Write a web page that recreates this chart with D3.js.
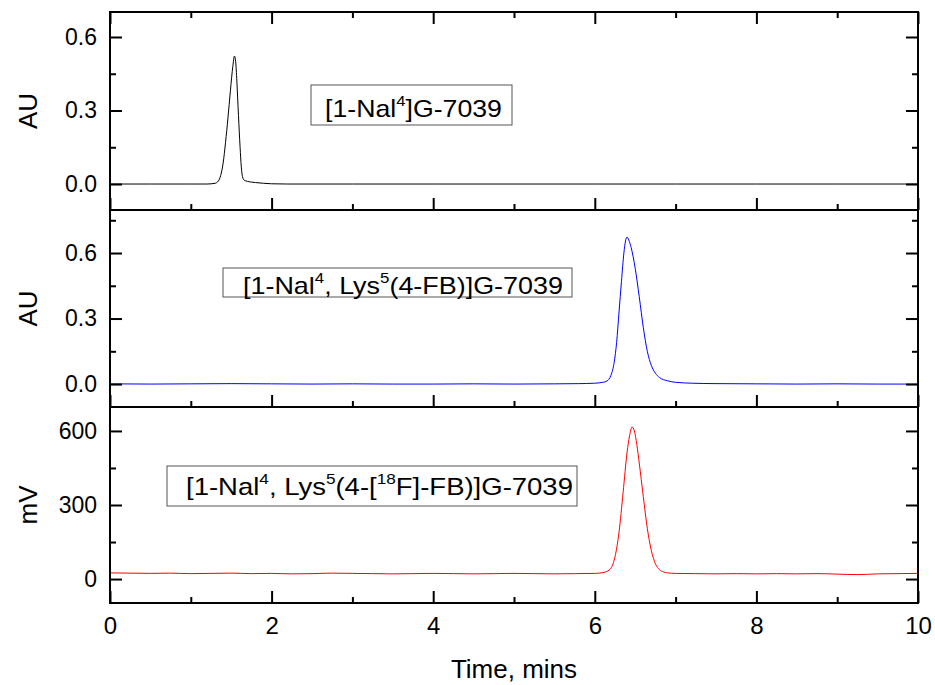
<!DOCTYPE html>
<html>
<head>
<meta charset="utf-8">
<script src="https://d3js.org/d3.v7.min.js"></script>
<style>
  body { margin: 0; background: white; }
  text { font-family: "Liberation Sans", Arial, sans-serif; fill: black; }
  .tick line { stroke: black; stroke-width: 2px; }
  .domain { display: none; }
</style>
</head>
<body>
<div id="chart"></div>
<script>
// ---------- data ----------
var xTicks = [0, 2, 4, 6, 8, 10];
var xMinor = [1, 3, 5, 7, 9];

// panel 1: [1-Nal4]G-7039 (AU)
var blackT = [0, 0.5, 1.0, 1.2, 1.3, 1.34, 1.37, 1.40, 1.43, 1.46, 1.49, 1.52, 1.54, 1.555, 1.57, 1.59, 1.61, 1.625, 1.64, 1.66, 1.70, 1.75, 1.80, 1.90, 2.0, 2.2, 3, 4, 5, 6, 7, 8, 9, 10];
var blackV = [0, 0, 0, 0, 0.003, 0.012, 0.035, 0.085, 0.17, 0.27, 0.38, 0.48, 0.522, 0.50, 0.42, 0.28, 0.15, 0.07, 0.03, 0.016, 0.011, 0.008, 0.006, 0.003, 0.001, 0, 0, 0, 0, 0, 0, 0, 0, 0];

// panel 2: [1-Nal4, Lys5(4-FB)]G-7039 (AU)
var blueT = [0, 0.5, 1.0, 1.5, 2.0, 2.5, 3.0, 3.5, 4.0, 4.5, 5.0, 5.5, 5.8, 6.0, 6.1, 6.15, 6.20, 6.24, 6.27, 6.30, 6.33, 6.36, 6.38, 6.40, 6.42, 6.45, 6.50, 6.55, 6.60, 6.65, 6.70, 6.75, 6.80, 6.90, 7.0, 7.2, 7.5, 8.0, 8.5, 9.0, 9.5, 10];
var blueV = [0.001, 0, 0.001, 0.002, 0.001, 0, 0.001, 0, 0, 0.001, 0, 0.001, 0.002, 0.004, 0.008, 0.014, 0.04, 0.10, 0.19, 0.33, 0.47, 0.60, 0.655, 0.673, 0.66, 0.625, 0.53, 0.40, 0.26, 0.15, 0.085, 0.05, 0.03, 0.015, 0.008, 0.004, 0.002, 0.001, 0, 0.001, 0, 0];

// panel 3: [1-Nal4, Lys5(4-[18F]-FB)]G-7039 (mV)
var redT = [0, 0.25, 0.5, 0.75, 1.0, 1.25, 1.5, 1.75, 2.0, 2.25, 2.5, 2.75, 3.0, 3.25, 3.5, 3.75, 4.0, 4.25, 4.5, 4.75, 5.0, 5.25, 5.5, 5.75, 6.0, 6.10, 6.15, 6.20, 6.25, 6.30, 6.35, 6.40, 6.43, 6.46, 6.49, 6.52, 6.55, 6.60, 6.65, 6.70, 6.75, 6.80, 6.85, 6.90, 7.0, 7.25, 7.5, 7.75, 8.0, 8.25, 8.5, 8.75, 9.0, 9.25, 9.5, 9.75, 10];
var redV = [25, 24, 23, 24, 22, 23, 24, 22, 23, 21, 22, 24, 23, 22, 21, 22, 23, 22, 21, 22, 23, 22, 21, 22, 23, 26, 31, 44, 90, 190, 350, 515, 580, 616, 600, 545, 470, 335, 205, 115, 62, 38, 29, 25, 23, 22, 21, 22, 21, 22, 21, 22, 20, 18, 21, 22, 23];

var yTicksAU = [0, 0.3, 0.6];
var yMinorAU1 = [0.15, 0.45];
var yMinorAU2 = [0.15, 0.45, 0.75];
var yTicksMV = [0, 300, 600];
var yMinorMV = [150, 450];

// ---------- layout ----------
var width = 935, height = 685;
var left = 110, right = 918;

var panels = [
  { top: 12,  bottom: 210, domain: [-0.106, 0.702], ticks: yTicksAU, minor: yMinorAU1, fmt: d3.format(".1f"),
    title: "AU", color: "#000000", t: blackT, v: blackV,
    label: [["[1-Nal"], ["4", 1], ["]G-7039"]], box: [311, 85, 201, 40], tx: 325, ty: 117, tw: 177 },
  { top: 210, bottom: 407, domain: [-0.105, 0.797], ticks: yTicksAU, minor: yMinorAU2, fmt: d3.format(".1f"),
    title: "AU", color: "#0000ff", t: blueT, v: blueV,
    label: [["[1-Nal"], ["4", 1], [", Lys"], ["5", 1], ["(4-FB)]G-7039"]], box: [223, 268, 349, 29], tx: 243, ty: 294, tw: 320 },
  { top: 407, bottom: 603, domain: [-97, 697], ticks: yTicksMV, minor: yMinorMV, fmt: d3.format("d"),
    title: "mV", color: "#ff0000", t: redT, v: redV,
    label: [["[1-Nal"], ["4", 1], [", Lys"], ["5", 1], ["(4-["], ["18", 1], ["F]-FB)]G-7039"]], box: [167, 466, 410, 40], tx: 186, ty: 495, tw: 387 }
];

var svg = d3.select("#chart").append("svg")
  .attr("width", width)
  .attr("height", height)
  .style("background", "white");

var x = d3.scaleLinear().domain([0, 10]).range([left, right]);

panels.forEach(function(p, i) {
  var y = d3.scaleLinear().domain(p.domain).range([p.bottom, p.top]);
  var g = svg.append("g");

  // data line
  var pts = p.t.map(function(t, k) { return [t, p.v[k]]; });
  g.append("path")
    .datum(pts)
    .attr("fill", "none")
    .attr("stroke", p.color)
    .attr("stroke-width", 1)
    .attr("d", d3.line()
      .x(function(d) { return x(d[0]); })
      .y(function(d) { return y(d[1]); })
      .curve(d3.curveMonotoneX));

  // left axis
  g.append("g").attr("transform", "translate(" + left + ",0)")
    .call(d3.axisLeft(y).tickValues(p.ticks).tickSize(-12).tickPadding(13).tickFormat(p.fmt))
    .selectAll("text").style("font-size", "23px");
  g.append("g").attr("transform", "translate(" + left + ",0)")
    .call(d3.axisLeft(y).tickValues(p.minor).tickSize(-6).tickFormat(""));
  // right axis (mirror)
  g.append("g").attr("transform", "translate(" + right + ",0)")
    .call(d3.axisRight(y).tickValues(p.ticks).tickSize(-12).tickFormat(""));
  g.append("g").attr("transform", "translate(" + right + ",0)")
    .call(d3.axisRight(y).tickValues(p.minor).tickSize(-6).tickFormat(""));

  // bottom ticks
  var bx = g.append("g").attr("transform", "translate(0," + p.bottom + ")")
    .call(d3.axisBottom(x).tickValues(xTicks).tickSize(-12).tickPadding(14)
      .tickFormat(i === panels.length - 1 ? d3.format("d") : ""));
  bx.selectAll("text").style("font-size", "24px");
  g.append("g").attr("transform", "translate(0," + p.bottom + ")")
    .call(d3.axisBottom(x).tickValues(xMinor).tickSize(-6).tickFormat(""));

  // top ticks only on first panel
  if (i === 0) {
    g.append("g").attr("transform", "translate(0," + p.top + ")")
      .call(d3.axisTop(x).tickValues(xTicks).tickSize(-12).tickFormat(""));
    g.append("g").attr("transform", "translate(0," + p.top + ")")
      .call(d3.axisTop(x).tickValues(xMinor).tickSize(-6).tickFormat(""));
  }

  // frame
  g.append("rect")
    .attr("x", left).attr("y", p.top)
    .attr("width", right - left).attr("height", p.bottom - p.top)
    .attr("fill", "none").attr("stroke", "black").attr("stroke-width", 2);

  // y title
  g.append("text")
    .attr("transform", "translate(37," + ((p.top + p.bottom) / 2) + ") rotate(-90)")
    .attr("text-anchor", "middle")
    .style("font-size", "26px")
    .text(p.title);

  // compound label in a box
  g.append("rect")
    .attr("x", p.box[0]).attr("y", p.box[1])
    .attr("width", p.box[2]).attr("height", p.box[3])
    .attr("fill", "white").attr("stroke", "#555").attr("stroke-width", 1);
  var lg = g.append("g").attr("transform", "translate(" + p.tx + "," + p.ty + ")");
  var txt = lg.append("text").style("font-size", "24px");
  var raised = false;
  p.label.forEach(function(part) {
    var sup = part[1] === 1;
    var dy = 0;
    if (sup && !raised) { dy = -11; raised = true; }
    else if (!sup && raised) { dy = 11; raised = false; }
    txt.append("tspan")
      .attr("dy", dy)
      .style("font-size", sup ? "15px" : "24px")
      .text(part[0]);
  });
  var w = txt.node().getBBox().width;
  lg.attr("transform", "translate(" + p.tx + "," + p.ty + ") scale(" + (p.tw / w) + ",1)");
});

// x title
svg.append("text")
  .attr("x", (left + right) / 2)
  .attr("y", 678)
  .attr("text-anchor", "middle")
  .style("font-size", "26px")
  .text("Time, mins");
</script>
</body>
</html>
